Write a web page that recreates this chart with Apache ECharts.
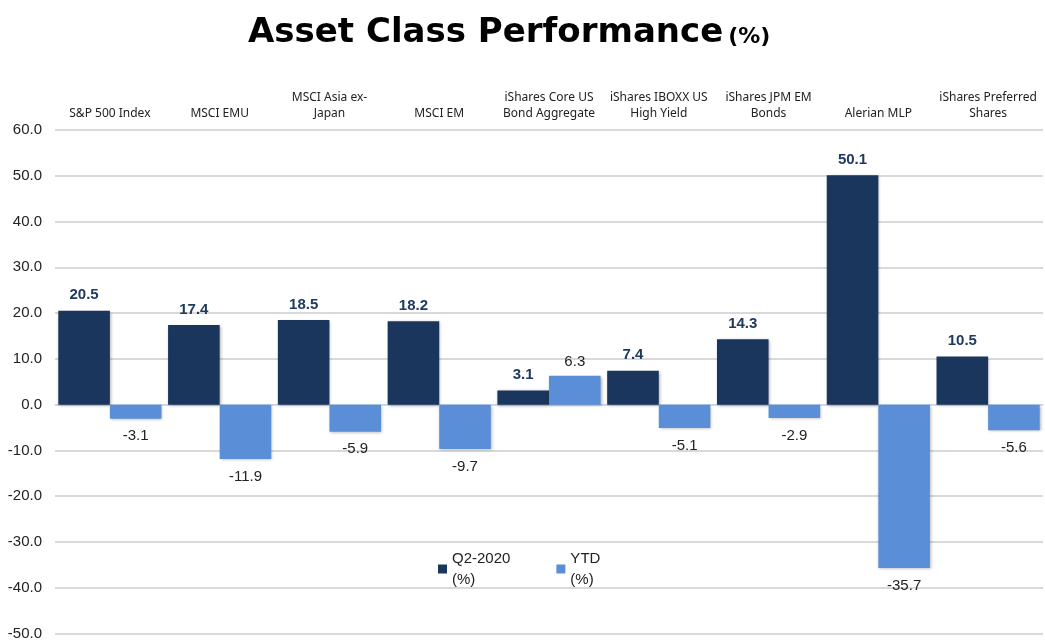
<!DOCTYPE html>
<html>
<head>
<meta charset="utf-8">
<script src="https://cdn.jsdelivr.net/npm/echarts@6/dist/echarts.min.js"></script>
<style>
  html, body { margin: 0; padding: 0; background: #fff; }
  #main { width: 1045px; height: 641px; }
</style>
</head>
<body>
<div id="main"></div>
<script>
const categories = ['S&P 500 Index', 'MSCI EMU', 'MSCI Asia ex-\nJapan', 'MSCI EM',
  'iShares Core US\nBond Aggregate', 'iShares IBOXX US\nHigh Yield', 'iShares JPM EM\nBonds',
  'Alerian MLP', 'iShares Preferred\nShares']
const q2Values = [20.5, 17.4, 18.5, 18.2, 3.1, 7.4, 14.3, 50.1, 10.5]
const ytdValues = [-3.1, -11.9, -5.9, -9.7, 6.3, -5.1, -2.9, -35.7, -5.6]
const seriesNames = ['Q2-2020\n(%)', 'YTD\n(%)']

const darkBlue = '#1a365d'
const lightBlue = '#5a8ed6'

let myChart = echarts.init(document.getElementById('main'))

let option = {
  animation: false,
  title: {
    text: '{big|Asset Class Performance} {small|(%)}',
    left: 243,
    top: 11,
    textStyle: {
      rich: {
        big: { fontFamily: 'DejaVu Sans', fontWeight: 'bold', fontSize: 34, color: '#000' },
        small: { fontFamily: 'DejaVu Sans', fontWeight: 'bold', fontSize: 22, color: '#000', padding: [9, 0, 0, 0] }
      }
    }
  },
  legend: {
    left: 433,
    top: 543,
    icon: 'rect',
    itemWidth: 9,
    itemHeight: 9,
    itemGap: 46,
    textStyle: { fontFamily: 'Liberation Sans', fontSize: 15, color: '#222', lineHeight: 21 },
    data: seriesNames
  },
  grid: { left: 55, right: 2, top: 130, bottom: 7 },
  xAxis: [{
    type: 'category',
    position: 'top',
    data: categories,
    axisLine: { show: false, onZero: false },
    axisTick: { show: false },
    axisLabel: { interval: 0, fontFamily: 'Noto Sans', fontSize: 12, color: '#222', margin: 8, lineHeight: 16 }
  }, {
    type: 'category',
    position: 'bottom',
    data: categories,
    axisLine: { show: true, onZero: true, lineStyle: { color: '#c5d8ef', width: 1 } },
    axisTick: { show: false },
    axisLabel: { show: false }
  }],
  yAxis: {
    type: 'value',
    min: -50,
    max: 60,
    interval: 10,
    axisLine: { show: false },
    axisTick: { show: false },
    splitLine: { lineStyle: { color: '#d9d9d9', width: 2 } },
    axisLabel: {
      fontFamily: 'Liberation Sans', fontSize: 15, color: '#222', margin: 13,
      formatter: v => v.toFixed(1)
    }
  },
  series: [{
    name: seriesNames[0],
    type: 'bar',
    data: q2Values,
    barGap: '0%',
    barCategoryGap: '6%',
    itemStyle: { color: darkBlue, shadowColor: 'rgba(0,0,0,0.3)', shadowBlur: 3, shadowOffsetX: 1, shadowOffsetY: 1 },
    label: {
      show: true, position: 'top', distance: 8,
      fontFamily: 'Liberation Sans', fontWeight: 'bold', fontSize: 15, color: '#1f3a60',
      formatter: p => p.value.toFixed(1)
    }
  }, {
    name: seriesNames[1],
    type: 'bar',
    data: ytdValues,
    barGap: '0%',
    barCategoryGap: '6%',
    itemStyle: { color: lightBlue, shadowColor: 'rgba(0,0,0,0.3)', shadowBlur: 3, shadowOffsetX: 1, shadowOffsetY: 1 },
    label: {
      show: true, position: 'bottom', distance: 10,
      fontFamily: 'Liberation Sans', fontSize: 15, color: '#222',
      formatter: p => p.value.toFixed(1)
    }
  }]
}

// positive YTD values get the label above the bar
option.series[1].data = ytdValues.map(v => v >= 0
  ? { value: v, label: { position: 'top', distance: 6 } }
  : v)

myChart.setOption(option)
</script>
</body>
</html>
